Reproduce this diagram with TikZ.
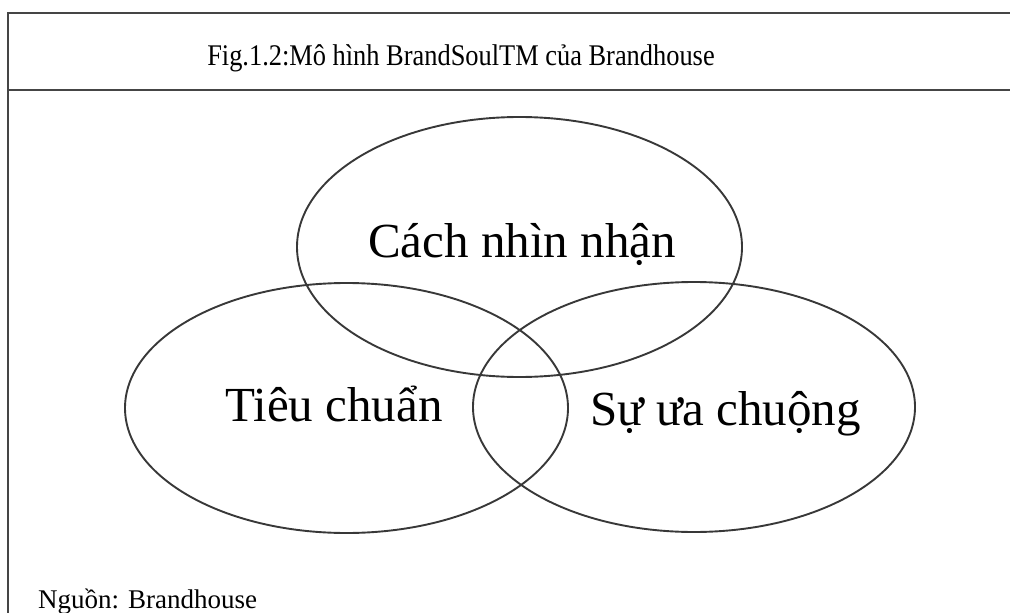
\documentclass[tikz,border=0pt]{standalone}
\usepackage{fontspec}
\setmainfont{Liberation Serif}
\usetikzlibrary{shapes.geometric}
\definecolor{linegray}{HTML}{383838}
\definecolor{framegray}{HTML}{454545}
\tikzset{
  venn/.style={ellipse, draw=linegray, line width=1.9pt, inner sep=0pt},
  frameline/.style={draw=framegray, line width=2.8pt},
  bigtext/.style={anchor=base, inner sep=0pt, font=\fontsize{49}{55}\selectfont, text=black},
  titletext/.style={anchor=base, inner sep=0pt, font=\fontsize{30}{34}\selectfont, text=black},
  srctext/.style={anchor=base west, inner sep=0pt, font=\fontsize{27}{32}\selectfont, text=black}
}
\begin{document}
\begin{tikzpicture}[x=1pt,y=-1pt]
\useasboundingbox (0,0) rectangle (1010,613);
% frame
\coordinate (fbl) at (8,613);
\coordinate (ftl) at (8,13);
\coordinate (ftr) at (1010,13);
\coordinate (fsl) at (8,90);
\coordinate (fsr) at (1010,90);
\draw[frameline] (fbl) -- (ftl) -- (ftr);
\draw[frameline] (fsl) -- (fsr);
% title
\node[titletext] (title) at (461,65) {\scalebox{0.88}[1]{Fig.1.2:Mô hình BrandSoulTM của Brandhouse}};
% ellipses
\node[venn, minimum width=445pt, minimum height=260pt] (top) at (519.5,247) {};
\node[venn, minimum width=443pt, minimum height=250pt] (left) at (346.5,408) {};
\node[venn, minimum width=442pt, minimum height=250pt] (right) at (694,407) {};
% labels
\node[bigtext] (ltop) at (522,257) {Cách nhìn nhận};
\node[bigtext] (lleft) at (334,421) {Tiêu chuẩn};
\node[bigtext] (lright) at (725.5,425) {Sự ưa chuộng};
% source
\node[srctext] (src) at (38,608) {Nguồn: Brandhouse};
\end{tikzpicture}
\end{document}
